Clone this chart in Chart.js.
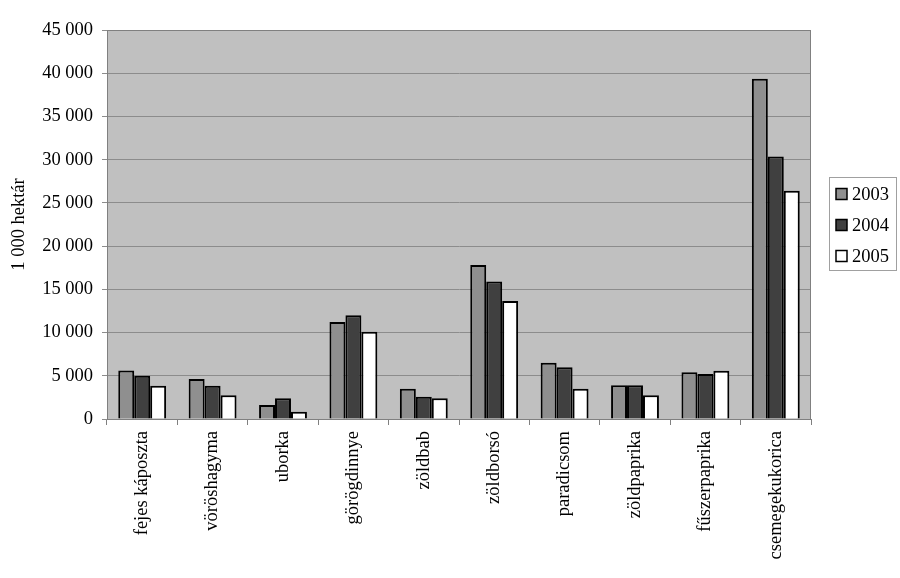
<!DOCTYPE html>
<html>
<head>
<meta charset="utf-8">
<script src="https://cdn.jsdelivr.net/npm/chart.js@4/dist/chart.umd.min.js"></script>
<style>
  html, body { margin: 0; padding: 0; background: #fff; }
  #wrap { width: 900px; height: 578px; position: relative; }
</style>
</head>
<body>
<div id="wrap"><canvas id="chart"></canvas></div>
<script>
// Zöldségfélék vetésterülete, 2003-2005
var categories = ['fejes káposzta', 'vöröshagyma', 'uborka', 'görögdinnye', 'zöldbab',
  'zöldborsó', 'paradicsom', 'zöldpaprika', 'fűszerpaprika', 'csemegekukorica'];
var years = ['2003', '2004', '2005'];
var values2003 = [5600, 4630, 1620, 11230, 3510, 17820, 6520, 3900, 5400, 39350];
var values2004 = [5000, 3850, 2390, 12000, 2580, 15900, 5980, 3900, 5210, 30360];
var values2005 = [3850, 2740, 850, 10100, 2390, 13660, 3510, 2740, 5590, 26390];
var yTicks = [0, 5000, 10000, 15000, 20000, 25000, 30000, 35000, 40000, 45000];

var FONT = "'Liberation Serif', 'Times New Roman', serif";
var FS = 18.5;
var fills = ['#8f8f8f', '#404040', '#ffffff'];

function fmt(v) {
  return String(v).replace(/\B(?=(\d{3})+(?!\d))/g, ' ');
}

// grey plot background + frame
var plotBg = {
  id: 'plotBg',
  beforeDraw: function(chart) {
    var a = chart.chartArea, ctx = chart.ctx;
    ctx.save();
    ctx.fillStyle = '#c0c0c0';
    ctx.fillRect(a.left, a.top, a.right - a.left, a.bottom - a.top);
    ctx.restore();
  },
  afterDatasetsDraw: function(chart) {
    var a = chart.chartArea, ctx = chart.ctx;
    ctx.save();
    ctx.strokeStyle = '#808080';
    ctx.lineWidth = 1;
    ctx.strokeRect(a.left + 0.5, a.top + 0.5, a.right - a.left - 1, a.bottom - a.top);
    ctx.restore();
  }
};

// legend box on the right, like the original
var sideLegend = {
  id: 'sideLegend',
  afterDraw: function(chart) {
    var ctx = chart.ctx;
    var x = 829, y = 177, w = 67, h = 93;
    ctx.save();
    ctx.fillStyle = '#fff';
    ctx.fillRect(x, y, w, h);
    ctx.strokeStyle = '#a0a0a0';
    ctx.lineWidth = 1;
    ctx.strokeRect(x + 0.5, y + 0.5, w, h);
    ctx.font = FS + 'px ' + FONT;
    ctx.textBaseline = 'middle';
    chart.data.datasets.forEach(function(ds, i) {
      var cy = y + 17 + i * 31;
      ctx.fillStyle = ds.backgroundColor;
      ctx.fillRect(x + 7, cy - 5.5, 11, 11);
      ctx.strokeStyle = '#000';
      ctx.lineWidth = 1.5;
      ctx.strokeRect(x + 7, cy - 5.5, 11, 11);
      ctx.fillStyle = '#000';
      ctx.fillText(ds.label, x + 23, cy + 1);
    });
    ctx.restore();
  }
};

var datasets = [values2003, values2004, values2005].map(function(vals, i) {
  return {
    label: years[i],
    data: vals,
    backgroundColor: fills[i],
    borderColor: '#000',
    borderWidth: 2,
    borderSkipped: 'bottom',
    categoryPercentage: 0.68,
    barPercentage: 1.0
  };
});

new Chart(document.getElementById('chart'), {
  type: 'bar',
  data: { labels: categories, datasets: datasets },
  plugins: [plotBg, sideLegend],
  options: {
    responsive: true,
    maintainAspectRatio: false,
    animation: false,
    layout: { padding: { top: 30, right: 89, bottom: 0, left: 0 } },
    plugins: {
      legend: { display: false },
      tooltip: { enabled: false }
    },
    scales: {
      x: {
        grid: { display: true, drawOnChartArea: false, color: '#808080', tickLength: 6, offset: true },
        border: { color: '#808080' },
        ticks: {
          color: '#000',
          font: { family: FONT, size: FS },
          minRotation: 90,
          maxRotation: 90,
          padding: 6,
          autoSkip: false
        },
        afterFit: function(scale) { scale.height = 159; }
      },
      y: {
        min: 0,
        max: 45000,
        afterBuildTicks: function(scale) {
          scale.ticks = yTicks.map(function(v) { return { value: v }; });
        },
        grid: { color: '#8c8c8c', tickLength: 5 },
        border: { color: '#808080' },
        ticks: {
          color: '#000',
          font: { family: FONT, size: FS },
          padding: 9,
          callback: function(v) { return fmt(v); }
        },
        title: {
          display: true,
          text: '1 000 hektár',
          color: '#000',
          font: { family: FONT, size: FS },
          padding: { top: 8, bottom: 4 }
        },
        afterFit: function(scale) { scale.width = 107; }
      }
    }
  }
});
</script>
</body>
</html>
